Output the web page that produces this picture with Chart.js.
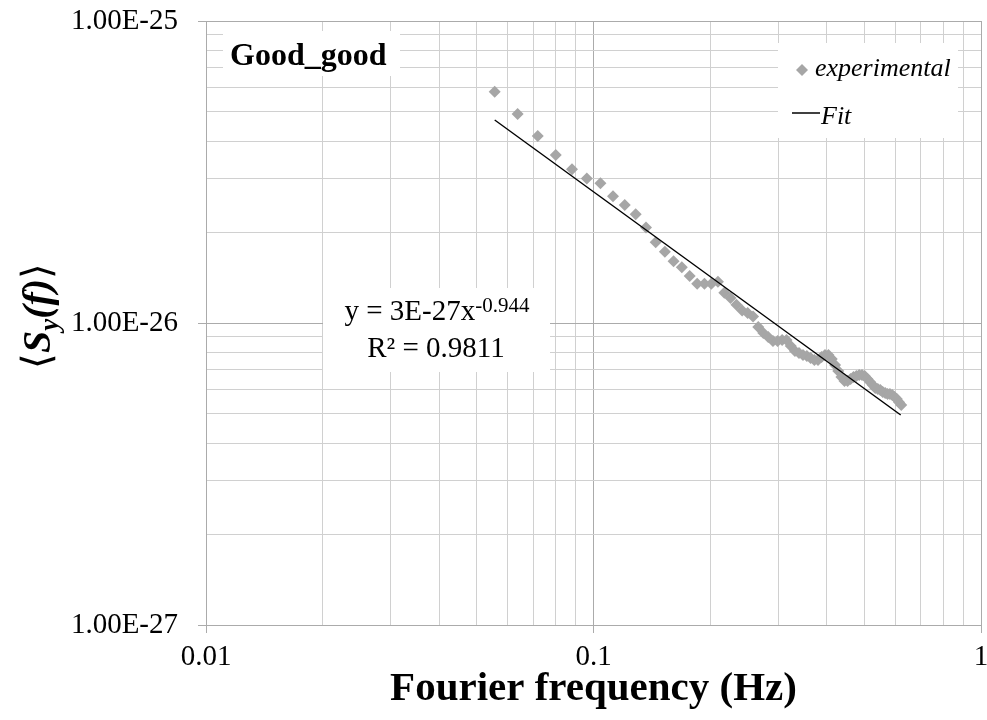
<!DOCTYPE html>
<html lang="en">
<head>
<meta charset="UTF-8">
<title>Good_good</title>
<script src="https://cdn.jsdelivr.net/npm/chart.js@4.4.1/dist/chart.umd.min.js"></script>
<style>
  body { margin: 0; background: #fff; }
</style>
</head>
<body>
<canvas id="canvas" width="987" height="720"></canvas>
<script>
// experimental points (Hz, spectral density)
const freq = [
  0.0556, 0.0637, 0.0718, 0.0799, 0.0880, 0.0961, 0.1042, 0.1123, 0.1204, 0.1285,
  0.1366, 0.1447, 0.1528, 0.1609, 0.1690, 0.1771, 0.1852, 0.1933, 0.2014, 0.2095,
  0.2176, 0.2257, 0.2338, 0.2419, 0.2500, 0.2581, 0.2662, 0.2743, 0.2824, 0.2905,
  0.2986, 0.3067, 0.3148, 0.3229, 0.3310, 0.3391, 0.3472, 0.3553, 0.3634, 0.3715,
  0.3796, 0.3877, 0.3958, 0.4039, 0.4120, 0.4201, 0.4282, 0.4363, 0.4444, 0.4525,
  0.4606, 0.4687, 0.4768, 0.4849, 0.4930, 0.5011, 0.5092, 0.5173, 0.5254, 0.5335,
  0.5416, 0.5497, 0.5578, 0.5659, 0.5740, 0.5821, 0.5902, 0.5983, 0.6064, 0.6145,
  0.6226
];
const psd = [
  5.83e-26, 4.92e-26, 4.16e-26, 3.60e-26, 3.23e-26, 3.01e-26, 2.90e-26, 2.63e-26, 2.46e-26, 2.29e-26,
  2.07e-26, 1.85e-26, 1.72e-26, 1.60e-26, 1.53e-26, 1.43e-26, 1.35e-26, 1.35e-26, 1.35e-26, 1.37e-26,
  1.26e-26, 1.21e-26, 1.15e-26, 1.10e-26, 1.08e-26, 1.05e-26, 9.70e-27, 9.27e-27, 8.99e-27, 8.72e-27,
  8.72e-27, 8.78e-27, 8.78e-27, 8.39e-27, 8.08e-27, 7.96e-27, 7.83e-27, 7.77e-27, 7.66e-27, 7.54e-27,
  7.54e-27, 7.72e-27, 7.83e-27, 7.83e-27, 7.60e-27, 7.26e-27, 6.94e-27, 6.63e-27, 6.43e-27, 6.43e-27,
  6.53e-27, 6.63e-27, 6.68e-27, 6.73e-27, 6.73e-27, 6.68e-27, 6.53e-27, 6.38e-27, 6.23e-27, 6.09e-27,
  6.05e-27, 6.00e-27, 5.91e-27, 5.86e-27, 5.82e-27, 5.82e-27, 5.77e-27, 5.69e-27, 5.60e-27, 5.47e-27,
  5.35e-27
];

// power-law trendline, ends of the line
const fitFreq = [0.0556, 0.6206];
const fitPsd = [4.70e-26, 4.96e-27];

// grid / tick positions
const xTicks = [0.01, 0.02, 0.03, 0.04, 0.05, 0.06, 0.07, 0.08, 0.09,
  0.1, 0.2, 0.3, 0.4, 0.5, 0.6, 0.7, 0.8, 0.9, 1];
const yTicks = [1e-27, 2e-27, 3e-27, 4e-27, 5e-27, 6e-27, 7e-27, 8e-27, 9e-27,
  1e-26, 2e-26, 3e-26, 4e-26, 5e-26, 6e-26, 7e-26, 8e-26, 9e-26, 1e-25];

const serif = "'Liberation Serif', 'Times New Roman', serif";

function isDecade(v) {
  const l = Math.log10(v);
  return Math.abs(l - Math.round(l)) < 1e-6;
}

const overlay = {
  id: 'overlay',
  beforeDatasetsDraw(chart) {
    const ctx = chart.ctx;
    ctx.save();
    ctx.fillStyle = '#fff';
    ctx.fillRect(223, 31, 177, 45);   // Good_good label
    ctx.fillRect(323, 288, 227, 84);  // equation
    ctx.fillRect(778, 43, 180, 95);   // legend
    ctx.restore();
  },
  afterDatasetsDraw(chart) {
    const ctx = chart.ctx;
    ctx.save();
    ctx.fillStyle = '#000';
    ctx.textBaseline = 'alphabetic';

    ctx.font = 'bold 32px ' + serif;
    ctx.fillText('Good_good', 230, 65);

    // trendline equation
    ctx.font = '29px ' + serif;
    const base = 'y = 3E-27x';
    const sup = '-0.944';
    const w1 = ctx.measureText(base).width;
    ctx.font = '21px ' + serif;
    const w2 = ctx.measureText(sup).width;
    let x0 = 437 - (w1 + w2) / 2;
    ctx.font = '29px ' + serif;
    ctx.fillText(base, x0, 320);
    ctx.font = '21px ' + serif;
    ctx.fillText(sup, x0 + w1, 312);
    ctx.font = '29px ' + serif;
    ctx.textAlign = 'center';
    ctx.fillText('R² = 0.9811', 436, 357);
    ctx.textAlign = 'left';

    // legend
    ctx.fillStyle = '#a6a6a6';
    ctx.beginPath();
    ctx.moveTo(802, 64); ctx.lineTo(808, 70); ctx.lineTo(802, 76); ctx.lineTo(796, 70);
    ctx.closePath();
    ctx.fill();
    ctx.fillStyle = '#000';
    ctx.font = 'italic 26px ' + serif;
    ctx.fillText('experimental', 815, 76);
    ctx.strokeStyle = '#000';
    ctx.lineWidth = 1.5;
    ctx.beginPath();
    ctx.moveTo(792, 113); ctx.lineTo(820, 113);
    ctx.stroke();
    ctx.fillText('Fit', 821, 124);
    ctx.restore();
  },
  afterDraw(chart) {
    // y axis title with subscript
    const ctx = chart.ctx;
    const parts = [
      { t: '⟨', f: '40px ' + serif, dy: 0 },
      { t: 'S', f: 'italic bold 40px ' + serif, dy: 0 },
      { t: 'y', f: 'italic bold 27px ' + serif, dy: 8 },
      { t: '(f)', f: 'italic bold 40px ' + serif, dy: 0 },
      { t: '⟩', f: '40px ' + serif, dy: 0 }
    ];
    ctx.save();
    let total = 0;
    parts.forEach(p => { ctx.font = p.f; p.w = ctx.measureText(p.t).width; total += p.w; });
    ctx.translate(50, 316);
    ctx.rotate(-Math.PI / 2);
    ctx.fillStyle = '#000';
    ctx.textBaseline = 'alphabetic';
    let x = -total / 2;
    parts.forEach(p => {
      ctx.font = p.f;
      ctx.fillText(p.t, x, p.dy);
      x += p.w;
    });
    ctx.restore();
  }
};

const gridColor = c => (c.tick && isDecade(c.tick.value)) ? '#ababab' : '#d0d0d0';
const tickColor = c => (c.tick && isDecade(c.tick.value)) ? '#ababab' : 'rgba(0,0,0,0)';

const ctx = document.getElementById('canvas').getContext('2d');
const chart = new Chart(ctx, {
  type: 'scatter',
  data: {
    datasets: [
      {
        label: 'Fit',
        data: fitFreq.map((f, i) => ({ x: f, y: fitPsd[i] })),
        showLine: true,
        borderColor: '#000',
        borderWidth: 1.4,
        pointRadius: 0,
        order: 0
      },
      {
        label: 'experimental',
        data: freq.map((f, i) => ({ x: f, y: psd[i] })),
        pointStyle: 'rectRot',
        pointRadius: 6,
        backgroundColor: '#a6a6a6',
        borderWidth: 0,
        order: 1
      }
    ]
  },
  options: {
    responsive: false,
    animation: false,
    events: [],
    layout: { padding: { top: 21, right: 5, left: 0, bottom: 0 } },
    plugins: {
      legend: { display: false },
      tooltip: { enabled: false }
    },
    scales: {
      x: {
        type: 'logarithmic',
        min: 0.01,
        max: 1,
        afterBuildTicks: s => { s.ticks = xTicks.map(v => ({ value: v })); },
        afterFit: s => { s.height = 95; s.paddingLeft = 0; s.paddingRight = 0; },
        ticks: {
          autoSkip: false,
          maxRotation: 0,
          padding: 7,
          color: '#000',
          font: { family: serif, size: 29 },
          callback: v => isDecade(v) ? String(v) : ''
        },
        grid: { color: gridColor, tickColor: tickColor, tickLength: 8, lineWidth: 1 },
        border: { color: '#ababab' },
        title: {
          display: true,
          text: 'Fourier frequency (Hz)',
          color: '#000',
          font: { family: serif, size: 41, weight: 'bold' },
          padding: { top: 0, bottom: 6 }
        }
      },
      y: {
        type: 'logarithmic',
        min: 1e-27,
        max: 1e-25,
        afterBuildTicks: s => { s.ticks = yTicks.map(v => ({ value: v })); },
        afterFit: s => { s.width = 206; s.paddingTop = 0; s.paddingBottom = 0; },
        ticks: {
          autoSkip: false,
          padding: 20,
          color: '#000',
          font: { family: serif, size: 29 },
          callback: v => isDecade(v) ? v.toExponential(2).toUpperCase() : ''
        },
        grid: { color: gridColor, tickColor: tickColor, tickLength: 8, lineWidth: 1 },
        border: { color: '#ababab' }
      }
    }
  },
  plugins: [overlay]
});
</script>
</body>
</html>
